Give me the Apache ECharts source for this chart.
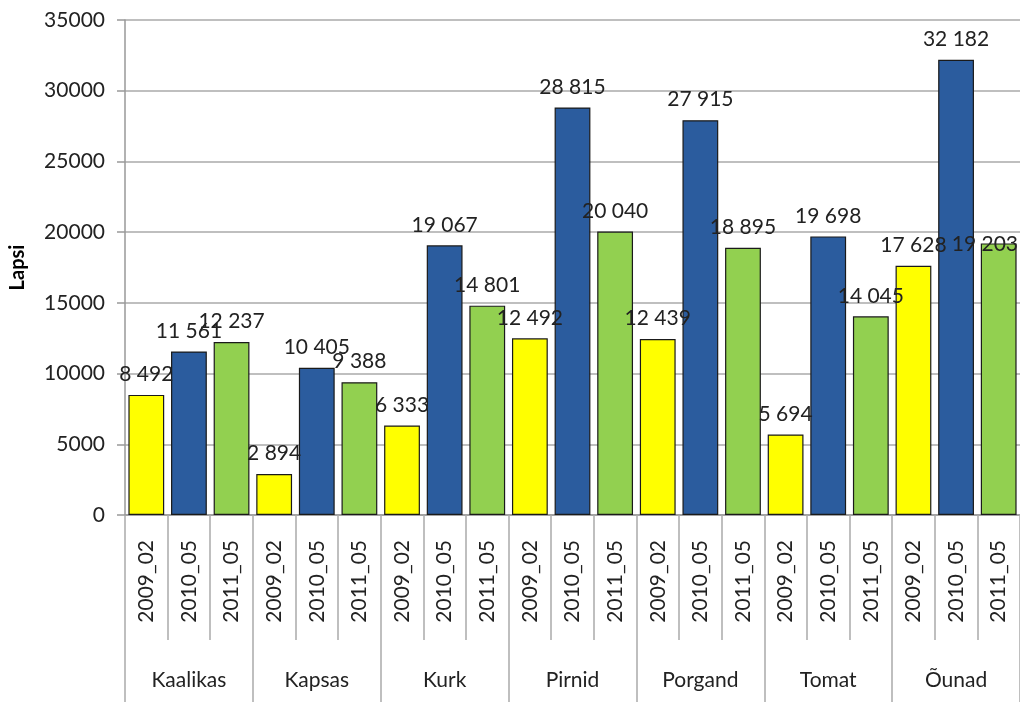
<!DOCTYPE html>
<html>
<head>
<meta charset="utf-8">
<script src="https://cdn.jsdelivr.net/npm/echarts@6/dist/echarts.min.js"></script>
<style>
html,body{margin:0;padding:0;background:#fff;}
#chart{width:1020px;height:702px;}
</style>
</head>
<body>
<div id="chart"></div>
<script>
const groups = ['Kaalikas', 'Kapsas', 'Kurk', 'Pirnid', 'Porgand', 'Tomat', 'Õunad'];
const periods = ['2009_02', '2010_05', '2011_05'];
const values2009_02 = [8492, 2894, 6333, 12492, 12439, 5694, 17628];
const values2010_05 = [11561, 10405, 19067, 28815, 27915, 19698, 32182];
const values2011_05 = [12237, 9388, 14801, 20040, 18895, 14045, 19203];
const yTicks = [0, 5000, 10000, 15000, 20000, 25000, 30000, 35000];
const periodColors = ['#FFFF00', '#2B5C9E', '#92D050'];

const seriesValues = [values2009_02, values2010_05, values2011_05];
const categories = [];
const barData = [];
groups.forEach((g, gi) => {
  periods.forEach((p, pi) => {
    categories.push(p);
    barData.push({ value: seriesValues[pi][gi], itemStyle: { color: periodColors[pi] } });
  });
});

const font = 'Lato, "Open Sans", sans-serif';
const chart = echarts.init(document.getElementById('chart'));
chart.setOption({
  animation: false,
  backgroundColor: '#fff',
  grid: { left: 119, top: 20, right: 0, bottom: 187, containLabel: false },
  xAxis: [
    {
      type: 'category',
      data: categories,
      position: 'bottom',
      axisLine: { show: true, lineStyle: { color: '#999', width: 1.5 } },
      axisTick: { show: true, interval: 0, length: 125, lineStyle: { color: '#aaa', width: 1.5 } },
      axisLabel: { interval: 0, rotate: 90, margin: 25, fontSize: 21, color: '#222', fontFamily: font }
    },
    {
      type: 'category',
      data: groups,
      position: 'bottom',
      offset: 0,
      axisLine: { show: false },
      axisTick: { show: true, interval: 0, length: 190, lineStyle: { color: '#aaa', width: 1.5 } },
      axisLabel: { interval: 0, margin: 155, fontSize: 21, color: '#222', fontFamily: font }
    }
  ],
  yAxis: {
    type: 'value',
    min: yTicks[0],
    max: yTicks[yTicks.length - 1],
    interval: 5000,
    name: 'Lapsi',
    nameLocation: 'middle',
    nameGap: 97,
    nameTextStyle: { fontSize: 20, fontWeight: 'bold', color: '#000', fontFamily: font },
    axisLine: { show: true, lineStyle: { color: '#999', width: 1.5 } },
    axisTick: { show: true, length: 8, lineStyle: { color: '#999', width: 1.5 } },
    axisLabel: { margin: 20, fontSize: 21, color: '#222', fontFamily: font, formatter: v => String(v) },
    splitLine: { show: true, lineStyle: { color: '#aaa', width: 1.5 } }
  },
  series: [{
    type: 'bar',
    xAxisIndex: 0,
    data: barData,
    barCategoryGap: '16%',
    itemStyle: { borderColor: '#1a1a1a', borderWidth: 1.2 },
    labelLayout: function (params) {
      const r = params.labelRect;
      if (r.x + r.width > 1018) {
        return { x: 1018 - r.width / 2, align: 'center' };
      }
      return {};
    },
    label: {
      show: true,
      position: 'top',
      distance: 10,
      fontSize: 21,
      color: '#222',
      fontFamily: font,
      formatter: p => String(p.value).replace(/\B(?=(\d{3})+(?!\d))/g, ' ')
    }
  }]
});
</script>
</body>
</html>
